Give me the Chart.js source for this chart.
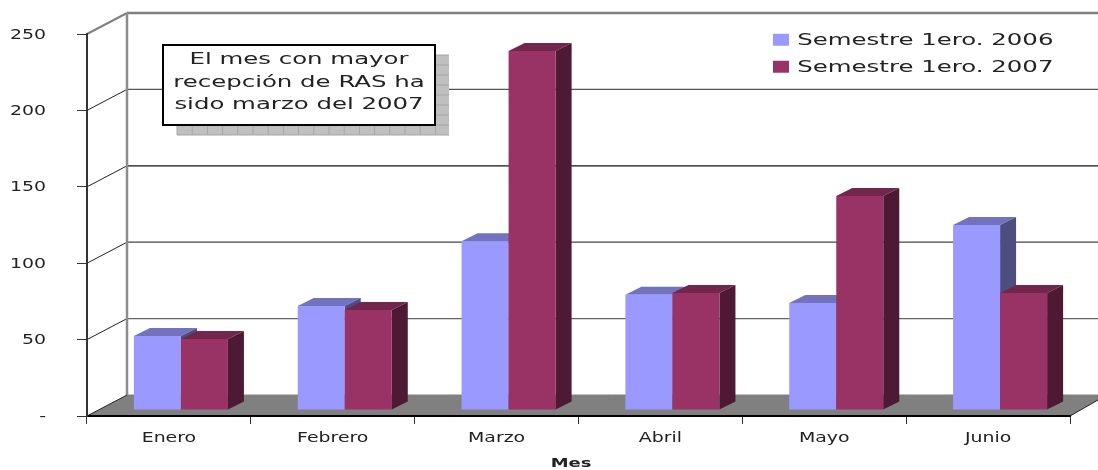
<!DOCTYPE html>
<html>
<head>
<meta charset="utf-8">
<script src="https://cdn.jsdelivr.net/npm/chart.js@4"></script>
<style>
html, body { margin: 0; padding: 0; background: #fff; overflow: hidden; }
canvas { display: block; }
</style>
</head>
<body>
<canvas id="myChart" width="1098" height="470"></canvas>
<script>
const meses = ['Enero', 'Febrero', 'Marzo', 'Abril', 'Mayo', 'Junio'];
const sem2006 = [48.5, 68, 110.5, 75.5, 70, 121];
const sem2007 = [46.5, 65.5, 235, 76.5, 140, 76.5];
const yTicks = ['-', '50', '100', '150', '200', '250'];
const nota = ['El mes con mayor', 'recepción de RAS ha', 'sido marzo del 2007'];
const xTitle = 'Mes';

const fontName = '"DejaVu Sans", Verdana, sans-serif';
const textColor = '#222';
// depth of the 3D look, in pixels
const wallDx = 40, wallDy = 21;
const barDx = 12, barDy = 6;
const sideDx = 16, sideDy = 8;

// the original picture is stretched sideways, text included
const stretchText = {
    id: 'stretchText',
    beforeInit(chart) {
        const ctx = chart.ctx;
        const fill = ctx.fillText.bind(ctx);
        ctx.fillText = function (text, x, y, maxWidth) {
            const size = parseFloat(/([\d.]+)px/.exec(ctx.font)[1]);
            ctx.save();
            ctx.translate(x, ctx.textBaseline === 'middle' ? y + 1 : y);
            ctx.scale(size > 15 ? 1.48 : 1.38, 1);
            fill(text, 0, 0, maxWidth);
            ctx.restore();
        };
    }
};

const placeLegend = {
    id: 'placeLegend',
    afterLayout(chart) {
        const legend = chart.legend;
        const h = legend.height;
        legend.left = 762.5;
        legend.right = chart.width;
        legend.top = 21;
        legend.bottom = legend.top + h;
    }
};

function line(ctx, x1, y1, x2, y2, color, width) {
    ctx.strokeStyle = color;
    ctx.lineWidth = width;
    ctx.beginPath();
    ctx.moveTo(x1, y1);
    ctx.lineTo(x2, y2);
    ctx.stroke();
}

function poly(ctx, pts, color) {
    ctx.fillStyle = color;
    ctx.beginPath();
    ctx.moveTo(pts[0][0], pts[0][1]);
    for (let i = 1; i < pts.length; i++) ctx.lineTo(pts[i][0], pts[i][1]);
    ctx.closePath();
    ctx.fill();
}

const walls = {
    id: 'walls',
    beforeDraw(chart) {
        const ctx = chart.ctx;
        const y = chart.scales.y;
        const area = chart.chartArea;
        const W = chart.width;
        const backX = area.left + wallDx;
        const y0 = y.getPixelForValue(0);
        ctx.save();
        // floor
        poly(ctx, [[area.left, y0], [backX, y0 - wallDy], [W, y0 - wallDy], [W, y0 - wallDy + 5], [area.right, y0]], '#808080');
        line(ctx, backX, y0 - wallDy - 0.5, W, y0 - wallDy - 0.5, '#c0c0c0', 1);
        line(ctx, area.right, y0, W, y0 - 16, '#222', 1);
        // back wall and diagonals
        const gridColors = { 50: '#666', 100: '#444', 150: '#111', 200: '#555', 250: '#808080' };
        for (let v = 50; v <= 250; v += 50) {
            const py = y.getPixelForValue(v);
            line(ctx, area.left, py, backX, py - wallDy, v === 250 ? '#808080' : '#222', v === 250 ? 2 : 1);
            line(ctx, backX, py - wallDy, W, py - wallDy, gridColors[v], v === 250 ? 2.5 : 1.2);
        }
        line(ctx, backX, y.getPixelForValue(250) - wallDy, backX, y0 - wallDy, '#8c8c8c', 2.5);
        line(ctx, area.left, y0, backX, y0 - wallDy, '#222', 1);
        ctx.restore();
    },
    // bars are drawn here, 2006 first, so 2007 sits on top of the 2006 side faces
    beforeDatasetsDraw(chart) {
        const ctx = chart.ctx;
        chart.data.datasets.forEach((ds, i) => {
            const meta = chart.getDatasetMeta(i);
            ctx.save();
            ctx.translate(barDx, -barDy);
            meta.data.forEach(bar => {
                const left = bar.x - bar.width / 2, right = bar.x + bar.width / 2;
                poly(ctx, [[left, bar.y], [left + sideDx, bar.y - sideDy], [right + sideDx, bar.y - sideDy], [right, bar.y]], ds.topColor);
                poly(ctx, [[right, bar.y], [right + sideDx, bar.y - sideDy], [right + sideDx, bar.base - sideDy], [right, bar.base]], ds.sideColor);
            });
            meta.controller.draw();
            ctx.restore();
        });
    },
    beforeDatasetDraw() {
        return false;
    }
};

const notaBox = {
    id: 'notaBox',
    afterDatasetsDraw(chart) {
        const ctx = chart.ctx;
        ctx.save();
        // hatched shadow
        ctx.fillStyle = '#bfbfbf';
        ctx.fillRect(177, 55, 272, 80);
        for (let x = 177; x <= 449; x += 15.2) line(ctx, x, 55, x, 135, '#a6a6a6', 1);
        for (let y = 55; y <= 135; y += 10) line(ctx, 177, y, 449, y, '#a6a6a6', 1);
        // box
        ctx.fillStyle = '#fff';
        ctx.fillRect(163, 45, 272, 80);
        ctx.strokeStyle = '#000';
        ctx.lineWidth = 2;
        ctx.strokeRect(163, 45, 272, 80);
        ctx.fillStyle = textColor;
        ctx.font = '16.5px ' + fontName;
        ctx.textAlign = 'center';
        ctx.textBaseline = 'middle';
        nota.forEach((t, i) => ctx.fillText(t, 299, 59 + i * 22.5));
        // axis title, left of the axis centre as in the original
        ctx.font = 'bold 13px ' + fontName;
        ctx.fillText(xTitle, 571, 463);
        ctx.restore();
    }
};

const config = {
    type: 'bar',
    data: {
        labels: meses,
        datasets: [
            { label: 'Semestre 1ero. 2006', data: sem2006, backgroundColor: '#9999ff', topColor: '#7272bf', sideColor: '#4d4d80' },
            { label: 'Semestre 1ero. 2007', data: sem2007, backgroundColor: '#993366', topColor: '#72264c', sideColor: '#4d1933' }
        ]
    },
    options: {
        responsive: false,
        animation: false,
        layout: { padding: { top: 34, right: 28 } },
        datasets: { bar: { barPercentage: 1, categoryPercentage: 0.574 } },
        plugins: {
            tooltip: { enabled: false },
            legend: {
                position: 'chartArea',
                align: 'start',
                labels: {
                    boxWidth: 16, boxHeight: 12, padding: 10.5,
                    color: textColor,
                    font: { family: fontName, size: 16.5 }
                }
            }
        },
        scales: {
            x: {
                afterFit(scale) { scale.height = 54; },
                grid: { drawOnChartArea: false, tickLength: 8, color: '#333' },
                border: { color: '#000', width: 2 },
                ticks: { color: textColor, padding: 5, maxRotation: 0, font: { family: fontName, size: 13.7 } }
            },
            y: {
                min: 0, max: 250,
                // the wide tick padding must not push the plot area down
                afterFit(scale) { scale.width = 87; scale.paddingTop = 0; scale.paddingBottom = 0; },
                grid: { drawOnChartArea: false, tickLength: 10, color: '#333' },
                border: { color: '#333', width: 2 },
                ticks: {
                    stepSize: 50, color: textColor, padding: 31,
                    font: { family: fontName, size: 13.7 },
                    callback: (v, i) => yTicks[i]
                }
            }
        }
    },
    plugins: [stretchText, placeLegend, walls, notaBox]
};

const myChart = new Chart(document.getElementById('myChart').getContext('2d'), config);
</script>
</body>
</html>
